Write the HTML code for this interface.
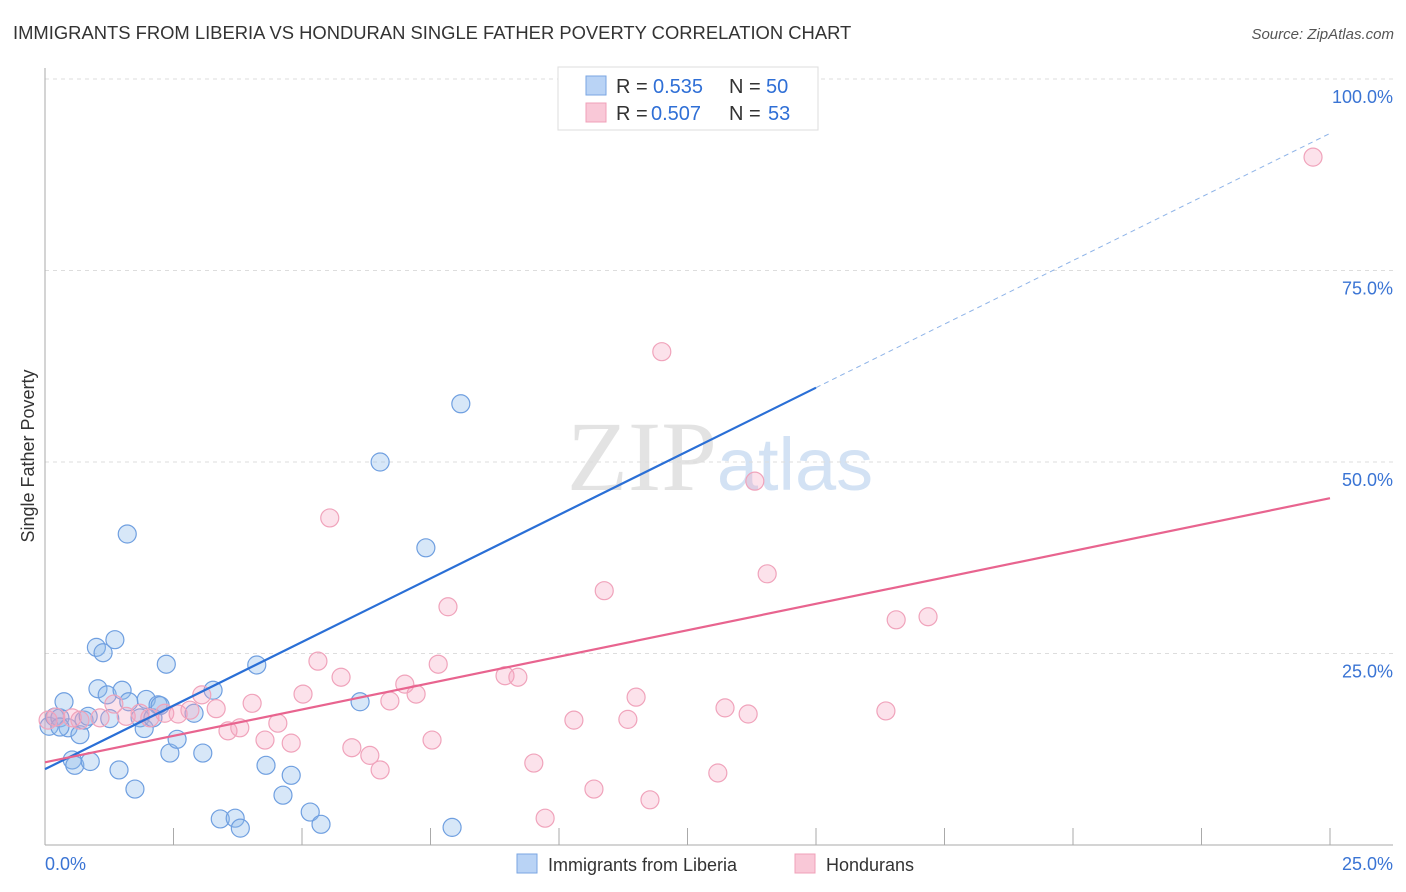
<!DOCTYPE html>
<html><head><meta charset="utf-8"><style>
body{margin:0;background:#fff;font-family:"Liberation Sans",sans-serif;}
</style></head><body>
<svg id="chart" width="1406" height="892" xmlns="http://www.w3.org/2000/svg" style="display:block">
<text x="13" y="39" font-size="18.4" fill="#333" font-family="Liberation Sans">IMMIGRANTS FROM LIBERIA VS HONDURAN SINGLE FATHER POVERTY CORRELATION CHART</text>
<text x="1394" y="39" font-size="15" fill="#555" text-anchor="end" font-style="italic" font-family="Liberation Sans">Source: ZipAtlas.com</text>
<text x="720" y="490" font-size="100" text-anchor="middle" font-family="Liberation Serif" fill="#ddd" opacity="0.8">ZIP<tspan fill="#c9dcf2" font-family="Liberation Sans" font-size="74">atlas</tspan></text>
<text transform="translate(34,456) rotate(-90)" font-size="18" fill="#333" text-anchor="middle" font-family="Liberation Sans">Single Father Poverty</text>
<g id="grid"></g><g id="axes"></g><g id="pts"></g><g id="lines"></g>
<g>
<rect x="558" y="67" width="260" height="63" fill="#fff" stroke="#ddd"/>
<rect x="586" y="76" width="20" height="19" fill="#b9d3f5" stroke="#7aa6e2"/>
<rect x="586" y="103" width="20" height="19" fill="#f9c8d7" stroke="#f0a0b8"/>
<text x="616" y="93" font-size="20" fill="#333">R =</text><text x="653" y="93" font-size="20" fill="#2f6fd6">0.535</text>
<text x="729" y="93" font-size="20" fill="#333">N =</text><text x="766" y="93" font-size="20" fill="#2f6fd6">50</text>
<text x="616" y="120" font-size="20" fill="#333">R =</text><text x="651" y="120" font-size="20" fill="#2f6fd6">0.507</text>
<text x="729" y="120" font-size="20" fill="#333">N =</text><text x="768" y="120" font-size="20" fill="#2f6fd6">53</text>
</g>
<g>
<rect x="517" y="854" width="20" height="19" fill="#b9d3f5" stroke="#7aa6e2"/>
<text x="548" y="871" font-size="18" fill="#333">Immigrants from Liberia</text>
<rect x="795" y="854" width="20" height="19" fill="#f9c8d7" stroke="#f0a0b8"/>
<text x="826" y="871" font-size="18" fill="#333">Hondurans</text>
</g>
</svg>
<script>
const blueX=[0.08,0.19,0.29,0.37,0.45,0.53,0.58,0.68,0.76,0.84,0.88,1.0,1.03,1.13,1.21,1.26,1.36,1.44,1.5,1.6,1.63,1.75,1.85,1.93,1.97,2.1,2.2,2.24,2.36,2.43,2.57,2.9,3.07,3.27,3.41,3.7,3.8,4.12,4.3,4.63,4.79,5.16,5.37,6.13,6.52,7.41,7.92,8.09,13.21,0.29];
const blueY=[15.5,16.7,16.6,18.7,15.3,11.1,10.4,14.4,16.3,16.8,10.9,25.8,20.4,25.1,19.6,16.5,26.8,9.8,20.2,40.6,18.7,7.3,16.6,15.2,19.0,16.6,18.3,18.2,23.6,12.0,13.8,17.2,12.0,20.2,3.4,3.5,2.2,23.5,10.4,6.5,9.1,4.3,2.7,18.7,50.0,38.8,2.3,57.6,100,15.4];
const pinkX=[0.06,0.21,0.53,0.68,1.07,1.34,1.58,1.85,2.04,2.33,2.59,2.82,3.05,3.33,3.56,3.79,4.03,4.28,4.53,4.79,5.02,5.31,5.54,5.76,5.97,6.32,6.52,6.71,7.0,7.22,7.53,7.65,7.84,8.95,9.2,9.51,9.73,10.29,10.68,10.88,11.34,11.5,11.77,12.0,13.09,13.23,13.68,13.81,14.05,16.36,16.56,17.18,24.67];
const pinkY=[16.3,16.7,16.6,16.3,16.6,18.4,16.8,17.2,16.6,17.2,17.1,17.6,19.6,17.8,14.9,15.3,18.5,13.7,15.9,13.3,19.7,24.0,42.7,21.9,12.7,11.7,9.8,18.8,21.0,19.7,13.7,23.6,31.1,22.1,21.9,10.7,3.5,16.3,7.3,33.2,16.4,19.3,5.9,64.4,9.4,17.9,17.1,47.5,35.4,17.5,29.4,29.8,89.8];
const blueLine=[9.9,3.32], pinkLine=[10.8,1.379];
const xTicks=["0.0%","25.0%"], yTicks=[25,50,75,100];
const xs=v=>45+v/25*1285, ys=v=>845-v/100*766;
const NS="http://www.w3.org/2000/svg";
function mk(tag,attrs,parent){const e=document.createElementNS(NS,tag);for(const k in attrs)e.setAttribute(k,attrs[k]);parent.appendChild(e);return e;}
const grid=document.getElementById('grid'),axes=document.getElementById('axes');
yTicks.forEach(t=>{
 const l=mk('line',{x1:45,x2:1393,y1:ys(t),y2:ys(t),stroke:'#ddd','stroke-dasharray':'4,4'},grid);
 
 
 const tx=mk('text',{x:1393,y:ys(t)+24,'font-size':18,fill:'#3a74d4','text-anchor':'end'},axes);
 tx.textContent=t.toFixed(1)+'%';
 
 
});
mk('line',{x1:45,x2:45,y1:68,y2:845,stroke:'#aaa'},axes);
mk('line',{x1:45,x2:1393,y1:845,y2:845,stroke:'#aaa'},axes);
for(let i=1;i<=10;i++){const x=xs(i*2.5);mk('line',{x1:x,x2:x,y1:828,y2:845,stroke:'#aaa'},axes);}
[[0,'start',45],[1,'end',1393]].forEach(([i,a,x])=>{const t=mk('text',{x:x,y:870,'font-size':18,fill:'#3a74d4','text-anchor':a},axes);t.textContent=xTicks[i];
 
 });
const pts=document.getElementById('pts');
blueX.forEach((x,i)=>{const c=mk('circle',{cx:xs(x),cy:ys(blueY[i]),r:9,fill:'rgba(140,185,235,0.35)',stroke:'#6f9fe0','stroke-width':1.2},pts);
 
 });
pinkX.forEach((x,i)=>{const c=mk('circle',{cx:xs(x),cy:ys(pinkY[i]),r:9,fill:'rgba(245,160,190,0.3)',stroke:'#f0a3bb','stroke-width':1.2},pts);
 
 });
const lines=document.getElementById('lines');
let l1=mk('line',{x1:xs(0),y1:ys(blueLine[0]),x2:xs(15),y2:ys(blueLine[0]+blueLine[1]*15),stroke:'#2a6fd6','stroke-width':2.2},lines);


let l2=mk('line',{x1:xs(15),y1:ys(blueLine[0]+blueLine[1]*15),x2:xs(25),y2:ys(blueLine[0]+blueLine[1]*25),stroke:'#8fb4e8','stroke-width':1,'stroke-dasharray':'5,4'},lines);


let l3=mk('line',{x1:xs(0),y1:ys(pinkLine[0]),x2:xs(25),y2:ys(pinkLine[0]+pinkLine[1]*25),stroke:'#e8648f','stroke-width':2.2},lines);


</script>
</body></html>
